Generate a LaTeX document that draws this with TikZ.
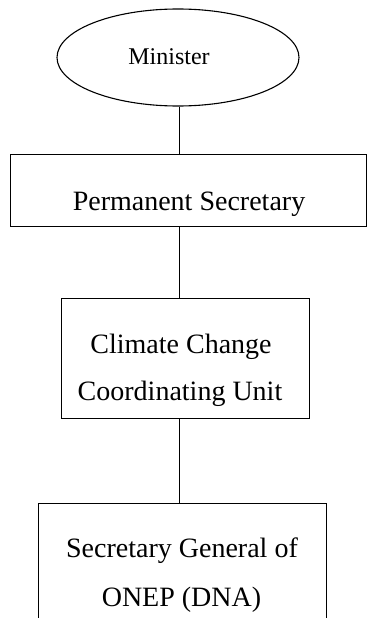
\documentclass[tikz,border=0pt]{standalone}
\usepackage{fontspec}
\setmainfont{Liberation Serif}
\usetikzlibrary{shapes.geometric}
\begin{document}
\begin{tikzpicture}[x=1pt,y=-1pt,
  box/.style={draw, line width=1pt, rectangle, inner sep=0pt},
  oval/.style={draw, line width=1.1pt, ellipse, inner sep=0pt},
  lbl/.style={anchor=base, inner sep=0pt, font=\fontsize{28}{34}\selectfont},
  link/.style={line width=1pt}]
\useasboundingbox (0,0) rectangle (367,618);
\clip (0,0) rectangle (367,618);
% shapes
\node[oval, minimum width=242pt, minimum height=97pt] (min) at (178,57.5) {};
\node[box, minimum width=356pt, minimum height=72pt] (ps) at (188,190) {};
\node[box, minimum width=248pt, minimum height=120pt] (ccu) at (185,358) {};
\node[box, minimum width=288pt, minimum height=200pt] (sg) at (182,603) {};
% texts
\node[lbl, font=\fontsize{24}{28}\selectfont] (mint) at (169,65) {Minister};
\node[lbl] (pst) at (189,210) {Permanent Secretary};
\node[lbl] (ccu1) at (181,353) {Climate Change};
\node[lbl] (ccu2) at (180,400) {Coordinating Unit};
\node[lbl] (sg1) at (182,557) {Secretary General of};
\node[lbl] (sg2) at (181.5,606) {ONEP (DNA)};
% connectors
\coordinate (spine) at (179,0);
\draw[link] (spine |- min.south) -- (spine |- ps.north);
\draw[link] (spine |- ps.south) -- (spine |- ccu.north);
\draw[link] (spine |- ccu.south) -- (spine |- sg.north);
\end{tikzpicture}
\end{document}
